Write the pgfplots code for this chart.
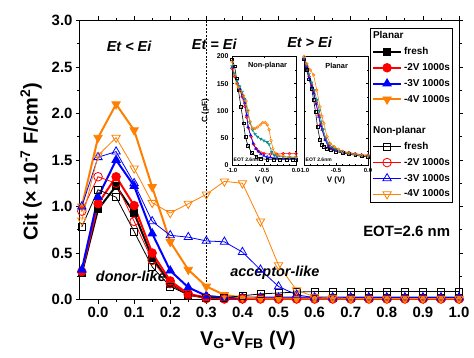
\documentclass[border=0pt]{standalone}
\usepackage{pgfplots}
\pgfplotsset{compat=1.18}
\usepackage{pgfplotstable}
\usepackage{fontspec}
\setmainfont{Liberation Sans}
\definecolor{myorange}{RGB}{255,128,0}
\definecolor{myteal}{RGB}{0,140,140}

\pgfplotstableread{
x      P0    P2    P3    P4    N0    N2    N3    N4
-0.045 0.28  0.30  0.32  1.00  0.78  0.95  1.00  0.85
0.00   0.97  1.03  1.10  1.74  1.18  1.32  1.53  1.55
0.05   1.22  1.32  1.50  2.10  1.10  1.25  1.59  1.74
0.10   0.93  1.01  1.22  1.82  0.73  0.84  1.25  1.41
0.15   0.45  0.50  0.71  1.21  0.35  0.42  0.84  1.04
0.20   0.17  0.20  0.31  0.62  0.14  0.17  0.69  0.93
0.25   0.05  0.06  0.13  0.32  0.05  0.05  0.67  1.03
0.30   0.02  0.02  0.04  0.14  0.02  0.01  0.63  1.13
0.35   0.015 0.01  0.02  0.05  0.02  0.005 0.62  1.27
0.40   0.015 0.01  0.02  0.02  0.04  0.005 0.51  1.25
0.45   0.015 0.01  0.02  0.01  0.06  0.005 0.32  0.84
0.50   0.015 0.01  0.02  0.01  0.07  0.005 0.14  0.37
0.55   0.015 0.01  0.02  0.01  0.08  0.005 0.05  0.10
0.60   0.015 0.01  0.02  0.01  0.085 0.005 0.02  0.03
0.65   0.015 0.01  0.02  0.01  0.085 0.005 0.02  0.02
0.70   0.015 0.01  0.02  0.01  0.085 0.005 0.02  0.01
0.75   0.015 0.01  0.02  0.01  0.085 0.005 0.02  0.01
0.80   0.015 0.01  0.02  0.01  0.085 0.005 0.02  0.01
0.85   0.015 0.01  0.02  0.01  0.085 0.005 0.02  0.01
0.90   0.015 0.01  0.02  0.01  0.085 0.005 0.02  0.01
0.95   0.015 0.01  0.02  0.01  0.085 0.005 0.02  0.01
1.00   0.015 0.01  0.02  0.01  0.085 0.005 0.02  0.01
}\maintab

\pgfplotsset{
  insetax/.style={
    anchor=south west, width=64bp, height=108.5bp, scale only axis,
    xmin=-1, xmax=0, ymin=0, ymax=200,
    xtick={-1,-0.5,0}, ytick={0,50,100,150,200},
    minor x tick num=4, minor y tick num=1,
    tick align=inside, major tick length=2bp, minor tick length=1bp,
    axis line style={line width=0.8bp},
    every tick/.style={line width=0.4bp, black},
    axis background/.style={fill=white},
    /pgf/number format/assume math mode=true,
    xticklabel style={font=\fontsize{6}{7}\selectfont\bfseries,
      /pgf/number format/.cd, fixed, fixed zerofill, precision=1},
    yticklabel style={font=\fontsize{7}{8}\selectfont\bfseries},
    label style={font=\fontsize{8}{9}\selectfont\bfseries},
    xlabel={V (V)},
    xlabel style={yshift=3bp},
  },
  cvline/.style={line width=0.6bp, mark size=1.4bp, mark options={solid, fill=white, line width=0.5bp}},
}

\begin{document}
\begin{tikzpicture}
\begin{axis}[
  name=main, at={(0,0)}, anchor=south west,
  width=379bp, height=279bp, scale only axis,
  xmin=-0.05, xmax=1.0, ymin=0, ymax=3,
  xtick={0,0.1,0.2,0.3,0.4,0.5,0.6,0.7,0.8,0.9,1.0},
  ytick={0,0.5,1,1.5,2,2.5,3},
  minor x tick num=1, minor y tick num=1,
  tick align=outside, major tick length=4bp, minor tick length=2.5bp,
  axis line style={line width=1bp},
  every tick/.style={line width=0.8bp, black},
  /pgf/number format/assume math mode=true,
  ticklabel style={font=\fontsize{15}{18}\selectfont\bfseries},
  xticklabel style={/pgf/number format/.cd, fixed, fixed zerofill, precision=1},
  yticklabel style={/pgf/number format/.cd, fixed, fixed zerofill, precision=1},
  xlabel={V\textsubscript{G}-V\textsubscript{FB} (V)},
  ylabel={Cit (× 10\textsuperscript{-7} F/cm\textsuperscript{2})},
  label style={font=\fontsize{20}{24}\selectfont\bfseries},
  xlabel style={at={(axis description cs:0.443,-0.1452)}, anchor=center},
  ylabel style={at={(axis description cs:-0.1293,0.493)}, anchor=center},
  legend style={at={(0.984,0.973)}, anchor=north east, draw=black, line width=0.8bp,
    font=\fontsize{10}{12}\selectfont\bfseries, inner xsep=1.5bp, inner ysep=2bp,
    row sep=4.3bp, column sep=1bp,
    nodes={inner sep=1bp, text height=7.5bp, text depth=2bp}},
  legend cell align=left,
  legend image code/.code={\draw[mark repeat=2,mark phase=2] plot coordinates {(0bp,0bp) (14bp,0bp) (28bp,0bp)};},
]
\addlegendimage{empty legend}\addlegendentry{\hspace*{-31bp}Planar}
\addplot[black, line width=2bp, mark=square*, mark size=3.3bp, mark options={line width=0.8bp}] table[x=x,y=P0]{\maintab};
\addlegendentry{fresh}
\addplot[red, line width=2bp, mark=*, mark size=4.3bp, mark options={line width=0.8bp}] table[x=x,y=P2]{\maintab};
\addlegendentry{-2V 1000s}
\addplot[blue, line width=2bp, mark=triangle*, mark size=4.8bp, mark options={line width=0.8bp}] table[x=x,y=P3]{\maintab};
\addlegendentry{-3V 1000s}
\addplot[myorange, line width=2bp, mark=triangle*, mark size=4.8bp, mark options={line width=0.8bp, rotate=180}] table[x=x,y=P4]{\maintab};
\addlegendentry{-4V 1000s}
\addlegendimage{empty legend}\addlegendentry{}
\addlegendimage{empty legend}\addlegendentry{\hspace*{-31bp}Non-planar}
\addplot[black, line width=0.8bp, mark=square, mark size=3.5bp, mark options={fill=white}] table[x=x,y=N0]{\maintab};
\addlegendentry{fresh}
\addplot[red, line width=0.8bp, mark=o, mark size=4.3bp, mark options={fill=white}] table[x=x,y=N2]{\maintab};
\addlegendentry{-2V 1000s}
\addplot[blue, line width=0.8bp, mark=triangle, mark size=4.8bp, mark options={fill=white}] table[x=x,y=N3]{\maintab};
\addlegendentry{-3V 1000s}
\addplot[myorange, line width=0.8bp, mark=triangle, mark size=4.8bp, mark options={fill=white, rotate=180}] table[x=x,y=N4]{\maintab};
\addlegendentry{-4V 1000s}

\draw[black, line width=0.6bp, dash pattern=on 2bp off 1.5bp] (axis cs:0.3,0) -- (axis cs:0.3,3);
\node[font=\fontsize{14.5}{17}\selectfont\bfseries\itshape] at (axis cs:0.086,2.72) {Et < Ei};
\node[font=\fontsize{14.5}{17}\selectfont\bfseries\itshape] at (axis cs:0.322,2.74) {Et = Ei};
\node[font=\fontsize{14.5}{17}\selectfont\bfseries\itshape] at (axis cs:0.586,2.77) {Et > Ei};
\node[font=\fontsize{14.5}{17}\selectfont\bfseries\itshape] at (axis cs:0.091,0.25) {donor-like};
\node[font=\fontsize{14.5}{17}\selectfont\bfseries\itshape] at (axis cs:0.49,0.285) {acceptor-like};
\node[font=\fontsize{15}{18}\selectfont\bfseries] at (axis cs:0.855,0.735) {EOT=2.6 nm};
\end{axis}

% Inset: Non-planar
\begin{axis}[insetax, at={(152bp,134.5bp)}, ylabel={C (pF)}, ylabel style={yshift=1bp}]
\addplot[black, cvline, mark=square] coordinates {(-1.0,195) (-0.96,182) (-0.93,160) (-0.9,138) (-0.86,107) (-0.82,77) (-0.79,52) (-0.75,35) (-0.69,22) (-0.62,15) (-0.55,12) (-0.45,10) (-0.35,10) (-0.25,10) (-0.15,10) (-0.05,10) (0,10)};
\addplot[red, cvline, mark=o] coordinates {(-1.0,178) (-0.96,163) (-0.92,150) (-0.88,140) (-0.84,125) (-0.8,108) (-0.77,88) (-0.74,68) (-0.7,52) (-0.66,38) (-0.62,30) (-0.58,25) (-0.54,22) (-0.5,21) (-0.4,20) (-0.3,20) (-0.2,21) (-0.1,21) (0,21)};
\addplot[blue, cvline, mark=triangle] coordinates {(-1.0,180) (-0.96,165) (-0.92,152) (-0.88,140) (-0.84,128) (-0.8,114) (-0.77,92) (-0.75,70) (-0.71,55) (-0.67,40) (-0.63,30) (-0.59,25) (-0.55,20) (-0.5,17) (-0.45,15) (-0.4,14) (-0.3,13) (-0.2,12) (-0.1,12) (0,12)};
\addplot[myteal, cvline, mark=triangle, mark options={rotate=180}] coordinates {(-1.0,182) (-0.96,168) (-0.92,155) (-0.88,145) (-0.84,135) (-0.8,122) (-0.76,100) (-0.72,78) (-0.68,65) (-0.64,57) (-0.6,52) (-0.55,48) (-0.5,45) (-0.45,42) (-0.42,38) (-0.38,24) (-0.34,18) (-0.3,16) (-0.2,15) (-0.1,14) (0,14)};
\addplot[myorange, cvline, mark=o] coordinates {(-1.0,190) (-0.96,165) (-0.93,150) (-0.9,143) (-0.86,135) (-0.82,128) (-0.78,118) (-0.75,100) (-0.72,80) (-0.68,68) (-0.64,67) (-0.6,70) (-0.56,74) (-0.52,78) (-0.48,78) (-0.45,74) (-0.42,65) (-0.39,45) (-0.36,30) (-0.33,22) (-0.28,18) (-0.2,16) (-0.1,15) (0,15)};
\node[font=\fontsize{7.4}{9}\selectfont\bfseries] at (axis description cs:0.555,0.912) {Non-planar};
\node[font=\fontsize{5}{6}\selectfont\bfseries] at (axis description cs:0.23,0.05) {EOT 2.6nm};
\end{axis}

% Inset: Planar
\begin{axis}[insetax, at={(224bp,134.5bp)}, yticklabels={}]
\addplot[black, cvline, mark=square] coordinates {(-1.0,195) (-0.96,175) (-0.92,158) (-0.88,141) (-0.85,120) (-0.82,98) (-0.79,71) (-0.75,46) (-0.72,38) (-0.69,34) (-0.64,30) (-0.58,28) (-0.5,25) (-0.4,22) (-0.3,20) (-0.2,18) (-0.1,16) (0,15)};
\addplot[red, cvline, mark=o] coordinates {(-1.0,197) (-0.96,183) (-0.92,163) (-0.88,148) (-0.85,135) (-0.81,115) (-0.77,92) (-0.74,75) (-0.71,66) (-0.67,48) (-0.62,36) (-0.56,31) (-0.5,28) (-0.4,25) (-0.3,23) (-0.2,21) (-0.1,19) (0,18)};
\addplot[blue, cvline, mark=triangle] coordinates {(-1.0,195) (-0.96,181) (-0.92,160) (-0.88,145) (-0.85,132) (-0.81,112) (-0.77,89) (-0.74,72) (-0.72,65) (-0.67,46) (-0.62,34) (-0.56,30) (-0.5,27) (-0.4,24) (-0.3,22) (-0.2,20) (-0.1,18) (0,17)};
\addplot[myteal, cvline, mark=triangle, mark options={rotate=180}] coordinates {(-1.0,198) (-0.96,185) (-0.92,168) (-0.88,152) (-0.84,138) (-0.8,120) (-0.76,100) (-0.73,80) (-0.7,65) (-0.66,50) (-0.62,40) (-0.56,33) (-0.5,29) (-0.4,25) (-0.3,22) (-0.2,20) (-0.1,18) (0,17)};
\addplot[myorange, cvline, mark=o] coordinates {(-1.0,200) (-0.96,187) (-0.9,175) (-0.85,166) (-0.8,138) (-0.75,107) (-0.72,90) (-0.69,77) (-0.64,52) (-0.59,40) (-0.53,34) (-0.46,29) (-0.4,25) (-0.3,22) (-0.2,20) (-0.1,18) (0,17)};
\node[font=\fontsize{7.4}{9}\selectfont\bfseries] at (axis description cs:0.51,0.912) {Planar};
\node[font=\fontsize{5}{6}\selectfont\bfseries] at (axis description cs:0.23,0.05) {EOT 2.6nm};
\end{axis}

\pgfresetboundingbox
\path (-80bp,-58.5bp) rectangle (394bp,299.5bp);
\end{tikzpicture}
\end{document}
